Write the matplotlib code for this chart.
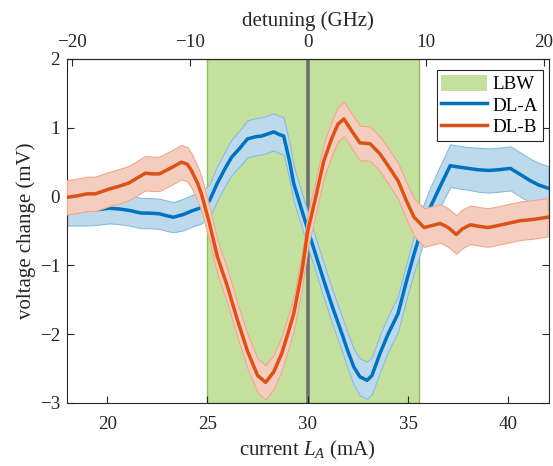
import numpy as np
import matplotlib
matplotlib.use("Agg")
import matplotlib.pyplot as plt
from matplotlib.patches import Patch
from matplotlib.lines import Line2D

plt.rcParams['font.family'] = ['Liberation Serif', 'DejaVu Serif']
plt.rcParams['mathtext.fontset'] = 'custom'
plt.rcParams['mathtext.it'] = 'Liberation Serif:italic'
plt.rcParams['mathtext.rm'] = 'Liberation Serif'

# DL-A (blue)
xa = [18.0, 18.5, 19.0, 19.5, 20.1, 20.6, 21.1, 21.7, 22.1, 22.6, 23.0, 23.3, 23.8, 24.2, 24.7,
      25.1, 25.5, 25.9, 26.2, 26.6, 27.0, 27.4, 27.7, 28.0, 28.3, 28.6, 28.8, 29.1, 29.3, 29.6,
      30.0, 30.4, 30.8, 31.2, 31.7, 32.0, 32.3, 32.6, 32.96, 33.2, 33.6, 34.0, 34.5, 34.9, 35.3,
      35.7, 36.1, 36.6, 37.1, 37.5, 38.0, 38.5, 39.0, 39.5, 40.1, 40.6, 41.1, 41.5, 42.0]
ya = [-0.20, -0.20, -0.20, -0.19, -0.17, -0.18, -0.20, -0.24, -0.24, -0.25, -0.28, -0.30, -0.26, -0.21, -0.16,
      -0.06, 0.20, 0.42, 0.57, 0.70, 0.84, 0.87, 0.88, 0.91, 0.94, 0.90, 0.88, 0.50, 0.19, -0.10,
      -0.48, -0.85, -1.22, -1.58, -1.99, -2.25, -2.48, -2.62, -2.67, -2.60, -2.28, -2.00, -1.70, -1.25, -0.83,
      -0.45, -0.16, 0.15, 0.45, 0.43, 0.41, 0.39, 0.38, 0.39, 0.41, 0.32, 0.23, 0.17, 0.12]
ea = [0.22, 0.22, 0.22, 0.22, 0.22, 0.22, 0.22, 0.22, 0.22, 0.22, 0.22, 0.22, 0.23, 0.23, 0.23,
      0.24, 0.25, 0.25, 0.26, 0.26, 0.27, 0.27, 0.27, 0.27, 0.27, 0.27, 0.27, 0.26, 0.26, 0.25,
      0.25, 0.25, 0.25, 0.25, 0.25, 0.26, 0.26, 0.27, 0.27, 0.27, 0.27, 0.26, 0.26, 0.26, 0.27,
      0.28, 0.29, 0.30, 0.31, 0.31, 0.31, 0.32, 0.32, 0.32, 0.32, 0.32, 0.32, 0.32, 0.32]

# DL-B (orange)
xb = [18.0, 18.5, 19.0, 19.4, 20.1, 20.6, 21.1, 21.5, 21.9, 22.3, 22.6, 23.2, 23.7, 24.0, 24.2,
      24.5, 24.7, 25.1, 25.5, 26.0, 26.5, 27.0, 27.5, 27.9, 28.3, 28.7, 29.0, 29.3, 29.7, 30.0,
      30.4, 30.8, 31.2, 31.5, 31.8, 32.2, 32.6, 33.1, 33.6, 34.0, 34.5, 34.9, 35.3, 35.8, 36.2,
      36.6, 37.0, 37.4, 37.7, 38.1, 38.5, 38.97, 39.5, 39.96, 40.6, 41.3, 41.95]
yb = [-0.01, 0.01, 0.04, 0.04, 0.11, 0.15, 0.20, 0.27, 0.34, 0.33, 0.33, 0.42, 0.50, 0.47, 0.38,
      0.20, 0.04, -0.39, -0.88, -1.31, -1.80, -2.25, -2.60, -2.70, -2.55, -2.28, -2.00, -1.70, -1.10, -0.50,
      0.00, 0.52, 0.85, 1.05, 1.13, 0.95, 0.78, 0.77, 0.62, 0.45, 0.23, -0.05, -0.30, -0.45, -0.42,
      -0.39, -0.45, -0.55, -0.47, -0.41, -0.43, -0.45, -0.42, -0.39, -0.35, -0.33, -0.30]
eb = [0.25, 0.25, 0.25, 0.25, 0.25, 0.25, 0.25, 0.25, 0.25, 0.25, 0.25, 0.25, 0.25, 0.25, 0.25,
      0.25, 0.25, 0.25, 0.25, 0.25, 0.25, 0.25, 0.25, 0.25, 0.25, 0.25, 0.25, 0.25, 0.25, 0.25,
      0.25, 0.25, 0.25, 0.25, 0.25, 0.25, 0.25, 0.25, 0.25, 0.26, 0.26, 0.27, 0.27, 0.28, 0.28,
      0.28, 0.28, 0.28, 0.28, 0.28, 0.28, 0.28, 0.28, 0.28, 0.28, 0.28, 0.28]

lbw = [25.0, 35.55]
center = 30.0
ghz_per_ma = 1.7
xticks_bottom = [20, 25, 30, 35, 40]
xticks_top = [-20, -10, 0, 10, 20]
yticks = [-3, -2, -1, 0, 1, 2]

blue = '#0072BD'
orange = '#D95319'
blue_fill = '#BCDAEC'
blue_edge = '#86BDE0'
orange_fill = '#F4CDBE'
orange_edge = '#EFA98E'
green = '#C5DF9F'
txt = '#262626'

fig = plt.figure(figsize=(5.53, 4.66), dpi=100)
ax = fig.add_axes([0.1212, 0.1352, 0.8707, 0.7382])

ax.axvspan(lbw[0], lbw[1], facecolor=green, edgecolor='#8DBF5C', linewidth=1.0, zorder=0)
ax.axvline(center, color='#707070', linewidth=2.6, zorder=1)

xa_, ya_, ea_ = np.array(xa), np.array(ya), np.array(ea)
xb_, yb_, eb_ = np.array(xb), np.array(yb), np.array(eb)
ax.fill_between(xa_, ya_ - ea_, ya_ + ea_, facecolor=blue_fill, edgecolor=blue_edge, linewidth=0.8, zorder=2)
ax.plot(xa_, ya_, color=blue, linewidth=2.5, zorder=3)
ax.fill_between(xb_, yb_ - eb_, yb_ + eb_, facecolor=orange_fill, edgecolor=orange_edge, linewidth=0.8, zorder=4)
ax.plot(xb_, yb_, color=orange, linewidth=2.5, zorder=5)

ax.set_xlim(18, 42)
ax.set_ylim(-3, 2)
ax.set_xticks(xticks_bottom)
ax.set_yticks(yticks)
ax.set_yticklabels(['\u22123', '\u22122', '\u22121', '0', '1', '2'])
ax.tick_params(direction='in', labelsize=13.7, right=True, top=False, length=5, colors=txt,
               labelcolor=txt, pad=5)
ax.tick_params(axis='x', pad=9.5)
for s in ax.spines.values():
    s.set_color(txt)
    s.set_linewidth(0.8)

ax.set_xlabel(r'current $L_A$ (mA)', fontsize=15, color=txt, labelpad=4)
ax.set_ylabel('voltage change (mV)', fontsize=15, color=txt, labelpad=3)

sec = ax.secondary_xaxis('top', functions=(lambda c: (c - center) * ghz_per_ma,
                                           lambda d: d / ghz_per_ma + center))
sec.set_xticks(xticks_top)
sec.set_xticklabels(['\u221220', '\u221210', '0', '10', '20'])
sec.tick_params(direction='in', labelsize=13.7, length=5, colors=txt, pad=5.5)
sec.spines['top'].set_color(txt)
sec.set_xlabel('detuning (GHz)', fontsize=15, color=txt, labelpad=6)

handles = [Patch(facecolor=green, edgecolor='none', label='LBW'),
           Line2D([], [], color=blue, linewidth=2.5, label='DL-A'),
           Line2D([], [], color=orange, linewidth=2.5, label='DL-B')]
leg = ax.legend(handles=handles, loc='upper right', bbox_to_anchor=(0.9886, 0.968), fontsize=13.7,
                fancybox=False, framealpha=1, edgecolor=txt, borderaxespad=0, handlelength=2.4,
                handletextpad=0.3, borderpad=0.25, labelspacing=0.15, handleheight=0.9)
leg.get_frame().set_linewidth(0.8)

fig.savefig('out.png', dpi=100)
